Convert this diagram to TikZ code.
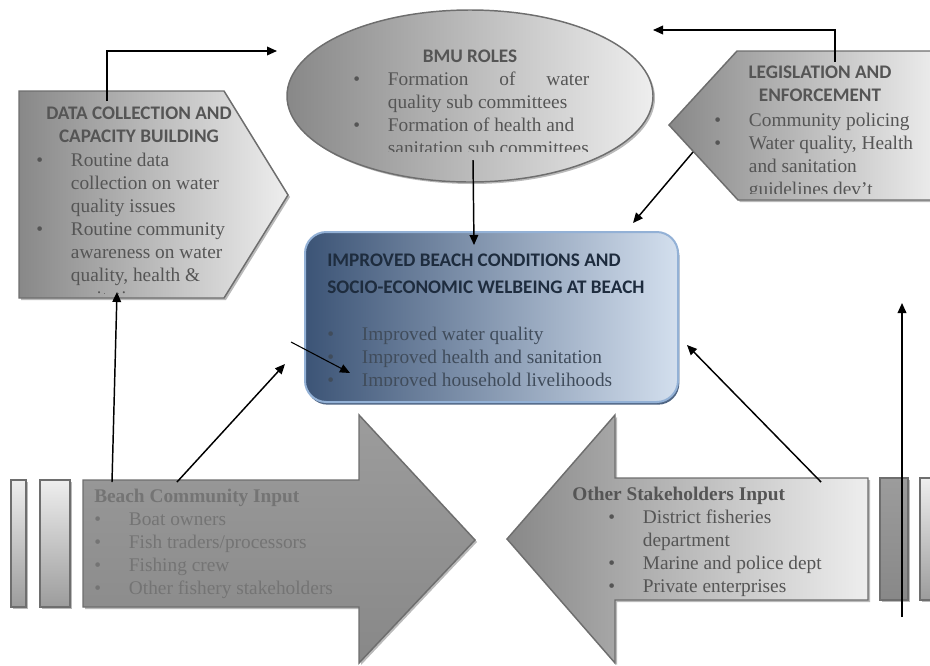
\documentclass[tikz,border=0pt]{standalone}
\usepackage{fontspec}
\setmainfont{Liberation Serif}
\newfontfamily\headfont{Carlito}
\usetikzlibrary{arrows.meta,shadows}

\definecolor{edgegray}{HTML}{6E6E6E}
\definecolor{graydark}{HTML}{888888}
\definecolor{graymid}{HTML}{9C9C9C}
\definecolor{graylight}{HTML}{EEEEEE}
\definecolor{navydark}{HTML}{3C5476}
\definecolor{navymid}{HTML}{7F92AC}
\definecolor{bluelight}{HTML}{D3DFEE}
\definecolor{blueedge}{HTML}{93B1D6}
\definecolor{graytext}{HTML}{555555}
\definecolor{paletext}{HTML}{747474}
\definecolor{navytext}{HTML}{1E2C3E}

\newlength{\itmwd}
\setlength{\itmwd}{26pt}
\newcommand{\itm}{\makebox[\itmwd][l]{\textbullet}}
\newcommand{\cnt}{\hspace*{\itmwd}}

\tikzset{
  shapeline/.style={draw=edgegray,line width=1.1pt,
    drop shadow={shadow xshift=1.5pt,shadow yshift=-1.5pt,fill=black!45,opacity=.6}},
  headtext/.style={font=\headfont\bfseries\fontsize{14.4}{17.25}\selectfont,
    inner sep=0pt,anchor=base},
  listtext/.style={font=\fontsize{14.5}{17.25}\selectfont,
    inner sep=0pt,anchor=base west},
  link/.style={->,line width=1.1pt}
}

\begin{document}
\begin{tikzpicture}[x=0.75pt,y=-0.75pt,>={Triangle[length=7.5pt,width=6.5pt]}]

  \useasboundingbox (0,0) rectangle (930,665);

  % shapes
  \draw[shapeline,left color=graydark,middle color=graymid,right color=graylight]
    (19,91) -- (224,91) -- (288,195) -- (224,298) -- (19,298) -- cycle;

  \draw[shapeline,left color=graydark,middle color=graymid,right color=graylight]
    (470,96) ellipse [x radius=137.25pt,y radius=64.5pt];

  \draw[shapeline,left color=graydark,middle color=graymid,right color=graylight]
    (669,125) -- (737,51) -- (940,51) -- (940,200) -- (738,200) -- cycle;

  \draw[draw=blueedge,line width=1.5pt,rounded corners=16pt,
    drop shadow={shadow xshift=1pt,shadow yshift=-2pt,fill=navydark,opacity=.9},
    left color=navydark,middle color=navymid,right color=bluelight]
    (305,232) rectangle (678,402);

  \draw[shapeline,top color=graymid,bottom color=graydark]
    (83,480) -- (359,480) -- (359,415) -- (475,540) -- (359,663) -- (359,607) -- (83,607) -- cycle;
  \draw[shapeline,top color=graylight,bottom color=graymid] (11,480) rectangle (26,607);
  \draw[shapeline,top color=graylight,bottom color=graymid] (40,480) rectangle (70,607);

  \draw[shapeline,left color=graydark,middle color=graymid,right color=graylight]
    (507,539) -- (615,415) -- (615,478) -- (868,478) -- (868,600) -- (615,600) -- (615,663) -- cycle;
  \draw[shapeline,top color=graymid,bottom color=graydark] (880,478) rectangle (908,600);
  \draw[shapeline,top color=graylight,bottom color=graymid] (920,478) rectangle (945,600);

  % texts
  \node[headtext,text=graytext] (datahead) at (139,119)
    {\begin{tabular}[t]{@{}c@{}}DATA COLLECTION AND\\CAPACITY BUILDING\end{tabular}};
  \begin{scope}
    \clip (19,91) rectangle (288,293);
    \node[listtext,text=graytext] (datalist) at (36,166.5)
      {\begin{tabular}[t]{@{}l@{}}\itm Routine data\\ \cnt collection on water\\ \cnt quality issues\\
       \itm Routine community\\ \cnt awareness on water\\ \cnt quality, health \&\\ \cnt sanitation\end{tabular}};
  \end{scope}

  \node[headtext,text=graytext] (bmuhead) at (470,62) {BMU ROLES};
  \begin{scope}
    \clip (287,10) rectangle (653,151);
    \node[listtext,text=graytext] (bmulist) at (353,85)
      {\begin{tabular}[t]{@{}l@{}}\itm\makebox[151pt][s]{Formation\hfill of\hfill water}\\ \cnt quality sub committees\\
       \itm Formation of health and\\ \cnt sanitation sub committees\end{tabular}};
  \end{scope}

  \node[headtext,text=graytext] (legishead) at (820,78)
    {\begin{tabular}[t]{@{}c@{}}LEGISLATION AND\\ENFORCEMENT\end{tabular}};
  \begin{scope}
    \clip (669,51) rectangle (930,193);
    \node[listtext,text=graytext] (legislist) at (714,126.5)
      {\begin{tabular}[t]{@{}l@{}}\itm Community policing\\ \itm Water quality, Health\\ \cnt and sanitation\\ \cnt guidelines dev't\end{tabular}};
  \end{scope}

  \node[headtext,text=navytext,anchor=base west,
    font=\headfont\bfseries\fontsize{14.4}{20.25}\selectfont] (boxhead) at (327,266)
    {\begin{tabular}[t]{@{}l@{}}IMPROVED BEACH CONDITIONS AND\\SOCIO-ECONOMIC WELBEING AT BEACH\end{tabular}};
  \begin{scope}
    \clip (305,232) rectangle (678,385);
    \node[listtext,text=navytext!85!white] (boxlist) at (327,340)
      {\begin{tabular}[t]{@{}l@{}}\itm Improved water quality\\ \itm Improved health and sanitation\\ \itm Improved household livelihoods\end{tabular}};
  \end{scope}

  \node[listtext,text=paletext] (beachlist) at (94,502)
    {\begin{tabular}[t]{@{}l@{}}\textbf{Beach Community Input}\\ \itm Boat owners\\ \itm Fish traders/processors\\
     \itm Fishing crew\\ \itm Other fishery stakeholders\end{tabular}};

  \node[listtext,text=graytext] (otherlist) at (572,500)
    {\begin{tabular}[t]{@{}l@{}}\textbf{Other Stakeholders Input}\\ \hspace*{27pt}\itm District fisheries\\ \hspace*{27pt}\cnt department\\
     \hspace*{27pt}\itm Marine and police dept\\ \hspace*{27pt}\itm Private enterprises\end{tabular}};

  % connector ends
  \coordinate (dataN) at (107,101);
  \coordinate (bmuW) at (277,51);
  \coordinate (legisN) at (835,62);
  \coordinate (bmuE) at (653,30);
  \coordinate (legisSW) at (693,152);
  \coordinate (boxNE) at (633,223);
  \coordinate (bmuS) at (473,160);
  \coordinate (boxN) at (474,245);
  \coordinate (beachN) at (177,482);
  \coordinate (boxSW) at (285,364);
  \coordinate (boxW) at (291,342);
  \coordinate (boxin) at (350,373);
  \coordinate (otherN) at (821,482);
  \coordinate (boxSE) at (687,345);
  \coordinate (beachNW) at (112,482);
  \coordinate (dataS) at (117,292);
  \coordinate (barS) at (902,617);
  \coordinate (barN) at (902,303);

  \draw[link] (dataN) |- (bmuW);
  \draw[link] (legisN) |- (bmuE);
  \draw[link] (legisSW) -- (boxNE);
  \draw[link] (bmuS) -- (boxN);
  \draw[link] (beachN) -- (boxSW);
  \draw[link,line width=.8pt] (boxW) -- (boxin);
  \draw[link] (otherN) -- (boxSE);
  \draw[link] (beachNW) -- (dataS);
  \draw[link] (barS) -- (barN);

\end{tikzpicture}
\end{document}
